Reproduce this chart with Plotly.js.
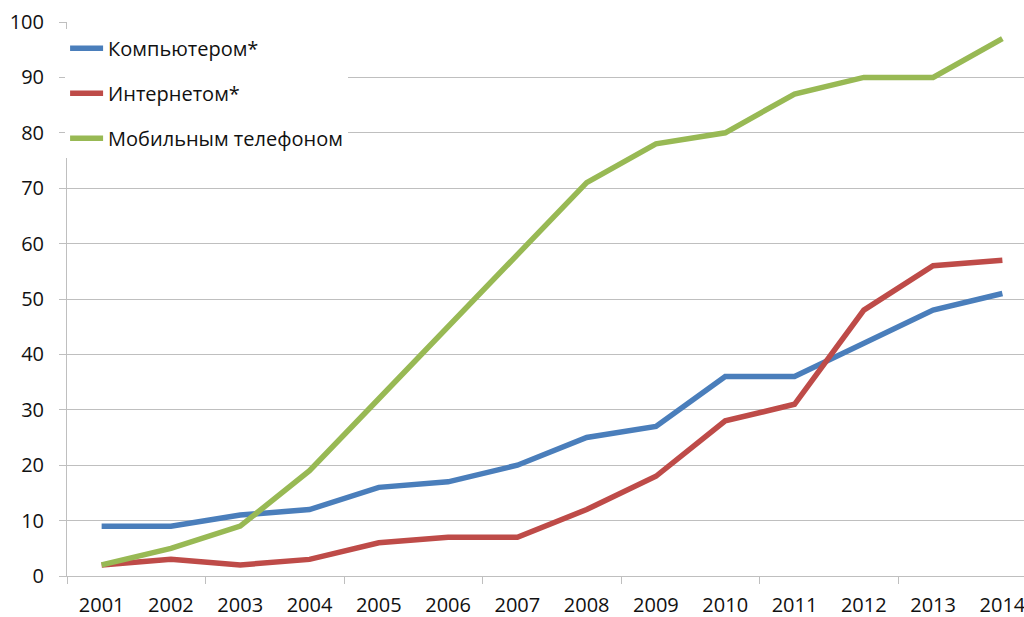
<!DOCTYPE html>
<html><head><meta charset="utf-8">
<script src="https://cdn.plot.ly/plotly-3.0.1.min.js"></script>
<style>html,body{margin:0;padding:0;background:#fff}#c{width:1024px;height:617px}</style>
</head><body><div id="c"></div>
<script>
const years = [2001,2002,2003,2004,2005,2006,2007,2008,2009,2010,2011,2012,2013,2014];
const yearLabels = years.map(String);
const computer = [9,9,11,12,16,17,20,25,27,36,36,42,48,51];
const internet = [2,3,2,3,6,7,7,12,18,28,31,48,56,57];
const mobile = [2,5,9,19,32,45,58,71,78,80,87,90,90,97];
const seriesNames = ['Компьютером*','Интернетом*','Мобильным телефоном'];
const yTicks = [0,10,20,30,40,50,60,70,80,90,100];

const colors = ['#4A7EBB','#BE4B48','#98B954'];
const font = {family:'"Open Sans", "DejaVu Sans", sans-serif', size:20, color:'#111'};
const series = [computer, internet, mobile];
const traces = series.map((v,i)=>({
  x: years, y: v, type:'scatter', mode:'lines', name: seriesNames[i],
  legendgroup:'g'+i,
  line:{color:colors[i], width:5.5}
}));
const boundaries = years.filter((y,i)=>i%2===0).map(y=>y-0.5).concat([years[years.length-1]+1.5]);
const xr = [years[0]-0.5, years[years.length-1]+0.312];
const layout = {
  width:1024, height:617,
  margin:{l:67, r:0, t:22, b:41},
  paper_bgcolor:'#fff', plot_bgcolor:'#fff',
  font: font,
  showlegend:true,
  legend:{x:-0.002, y:0.988, xanchor:'left', yanchor:'top', bgcolor:'#fff',
    traceorder:'grouped', tracegroupgap:16, itemwidth:33, font:font},
  xaxis:{type:'linear', range:xr, tickvals:years, ticktext:yearLabels,
    ticks:'', showgrid:false, zeroline:false, showline:true, linecolor:'#BFBFBF', linewidth:1,
    ticklabelstandoff:11, ticklabeloverflow:'allow', tickfont:font, fixedrange:true},
  xaxis2:{type:'linear', overlaying:'x', anchor:'y', side:'bottom', range:xr,
    tickvals:boundaries, ticks:'outside', ticklen:7, tickcolor:'#BFBFBF', tickwidth:1,
    showticklabels:false, showgrid:false, zeroline:false, showline:false},
  yaxis:{range:[0,100], tickvals:yTicks, ticks:'outside', ticklen:7, tickcolor:'#BFBFBF',
    showgrid:true, gridcolor:'#BFBFBF', gridwidth:1, zeroline:false,
    showline:true, linecolor:'#BFBFBF', linewidth:1, ticklabelstandoff:11, tickfont:font, fixedrange:true}
};
traces.push({x:[years[0]], y:[0], xaxis:'x2', type:'scatter', mode:'markers', marker:{opacity:0}, showlegend:false, hoverinfo:'skip'});
Plotly.newPlot('c', traces, layout, {staticPlot:true});
</script></body></html>
